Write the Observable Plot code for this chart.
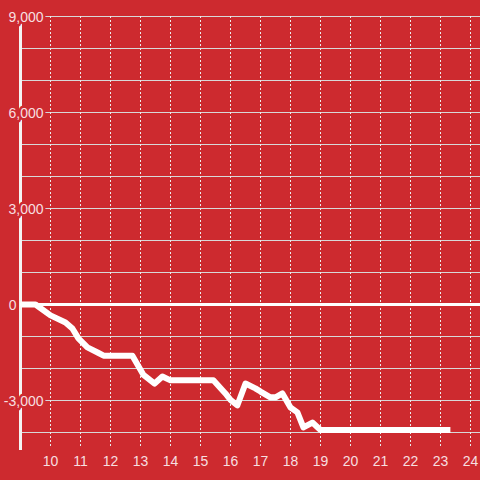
<!DOCTYPE html>
<html><head><meta charset="utf-8">
<script src="https://cdn.jsdelivr.net/npm/d3@7"></script>
<script src="https://cdn.jsdelivr.net/npm/@observablehq/plot@0.6"></script>
<style>html,body{margin:0;padding:0;background:#cd2a2f;overflow:hidden}</style>
</head><body><div id="chart"></div>
<script>
const hours = [9.0, 9.5, 10.0, 10.5, 10.73, 10.93, 11.23, 11.57, 11.77, 12.73, 13.1, 13.47, 13.73, 14.0, 15.43, 15.83, 16.0, 16.23, 16.5, 16.83, 17.0, 17.33, 17.5, 17.73, 18.0, 18.23, 18.43, 18.73, 19.0, 23.33];
const values = [0, 0, -340, -560, -750, -1060, -1340, -1500, -1600, -1600, -2200, -2470, -2250, -2370, -2370, -2780, -2980, -3150, -2470, -2620, -2720, -2900, -2900, -2780, -3220, -3370, -3840, -3690, -3920, -3920];
const xTicks = [10, 11, 12, 13, 14, 15, 16, 17, 18, 19, 20, 21, 22, 23, 24];
const yLabelTicks = [-3000, 0, 3000, 6000, 9000];
const yGridTicks = [-4000, -3000, -2000, -1000, 0, 1000, 2000, 3000, 4000, 5000, 6000, 7000, 8000, 9000];

const bg = "#cd2a2f";
const labelColor = "#f7dfe0";
const data = hours.map((h, i) => ({h, v: values[i]}));
const fmt = d3.format(",");

const plot = Plot.plot({
  width: 480, height: 480,
  marginLeft: 20, marginRight: 0, marginTop: 16, marginBottom: 32,
  style: {background: bg, fontFamily: "'Liberation Sans', Arial, sans-serif", fontSize: "14px", overflow: "visible"},
  x: {domain: [9, 24.3333], axis: null},
  y: {domain: [-4500, 9000], axis: null},
  marks: [
    Plot.ruleY(yGridTicks, {stroke: "#d8d8d8", strokeWidth: 1}),
    Plot.ruleX(xTicks, {y1: 9000, y2: -4500, stroke: "#ececec", strokeDasharray: "2,2", strokeWidth: 1}),
    Plot.ruleX([9], {y1: 9000, y2: -4560, stroke: "#f4f4f4", strokeWidth: 3}),
    Plot.ruleY([0], {stroke: "#ffffff", strokeWidth: 3}),
    Plot.text(yLabelTicks.filter(d => d !== 0), {x: 9, y: d => d, text: d => fmt(d).replace("−", "-"), dx: 23, dy: 1, textAnchor: "end", fill: labelColor, stroke: bg, strokeWidth: 5, fontSize: 14}),
    Plot.text(yLabelTicks.filter(d => d === 0), {x: 9, y: d => d, text: d => fmt(d), dx: -4, dy: 1, textAnchor: "end", fill: labelColor, fontSize: 14}),
    Plot.line(data, {x: "h", y: "v", stroke: "#ffffff", strokeWidth: 6, strokeLinejoin: "round", strokeLinecap: "butt"}),
    Plot.text(xTicks, {x: d => d, y: -4500, dy: 13, text: d => String(d), textAnchor: "middle", fill: labelColor, fontSize: 14})
  ]
});
document.getElementById("chart").appendChild(plot);
</script>
</body></html>
